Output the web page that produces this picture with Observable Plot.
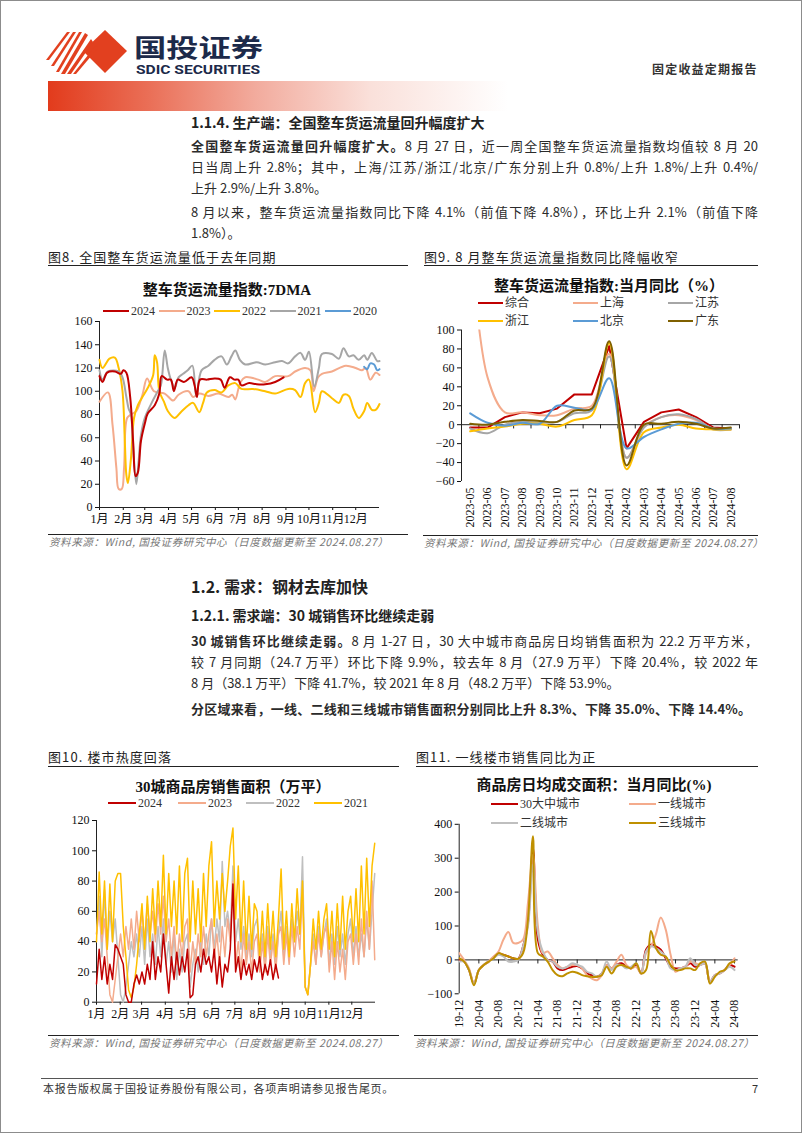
<!DOCTYPE html>
<html><head><meta charset="utf-8">
<script src="https://cdn.jsdelivr.net/npm/d3@7"></script>
<script src="https://cdn.jsdelivr.net/npm/@observablehq/plot@0.6"></script>
<style>
body{margin:0;background:#fff;}
#page{position:relative;width:802px;height:1133px;overflow:hidden;font-family:"Noto Sans CJK SC",sans-serif;color:#222;box-sizing:border-box;border:1px solid #8c8c8c;}
.abs{position:absolute;white-space:nowrap;}
.ln{position:absolute;left:190px;width:567px;font-size:13px;line-height:20px;height:20px;text-align:justify;text-align-last:justify;color:#2b2b2b;}
.ln.nj{text-align-last:left;}
.h{position:absolute;left:190px;white-space:nowrap;color:#222;font-weight:bold;}
.fig{position:absolute;font-size:13px;letter-spacing:1.1px;color:#222;white-space:nowrap;}
.rule{position:absolute;height:0;border-top:1.2px solid #222;}
.src{position:absolute;font-size:10.5px;font-style:italic;color:#777;white-space:nowrap;letter-spacing:0.6px;}
.ct{position:absolute;font-weight:bold;white-space:nowrap;color:#111;transform:translateX(-50%);font-family:"Liberation Serif","Noto Sans CJK SC",serif;}
.leg{position:absolute;white-space:nowrap;font-size:12px;color:#333;font-family:"Liberation Serif","Noto Sans CJK SC",serif;line-height:16px;}
.chart{position:absolute;}
</style></head>
<body><div id="page"></div>
<script>
// ---------------- DATA ----------------
// Fig 8: 整车货运流量指数:7DMA  [day of year, value]
const s2024 = [[0,113],[4,108],[10,116],[20,117],[28,115],[31,118],[35,116],[40,95],[44,55],[47,27],[50,30],[54,57],[59,72],[63,81],[72,88],[78,98],[81,113],[88,110],[93,110],[97,100],[102,110],[110,108],[120,112],[124,105],[127,95],[131,110],[140,110],[150,111],[158,110],[163,103],[170,112],[176,110],[181,110],[185,105],[195,107],[205,106],[216,106],[229,108],[240,112]];
const s2023 = [[0,91],[11,99],[17,71],[22,34],[25,16],[29,16],[32,34],[36,77],[41,80],[48,83],[56,97],[62,111],[71,100],[85,98],[96,92],[103,97],[116,100],[122,95],[130,98],[142,96],[155,98],[168,95],[173,97],[177,93],[181,102],[184,108],[190,112],[207,110],[216,108],[229,113],[246,113],[255,117],[268,120],[275,118],[279,100],[285,112],[290,115],[303,117],[321,122],[334,120],[342,118],[347,120],[353,110],[360,116],[365,114]];
const s2022 = [[0,127],[4,120],[13,128],[20,129],[25,120],[30,100],[33,57],[35,28],[37,21],[41,42],[45,77],[50,88],[55,94],[63,103],[70,114],[72,131],[75,125],[78,100],[84,91],[89,83],[98,77],[106,82],[116,88],[122,90],[130,82],[135,90],[140,99],[150,101],[159,99],[168,105],[177,107],[185,102],[200,102],[216,100],[229,98],[246,102],[255,101],[262,95],[268,107],[273,110],[281,82],[286,90],[290,100],[303,94],[312,90],[318,97],[325,96],[331,85],[338,77],[345,83],[349,90],[355,84],[360,84],[365,89]];
const s2021 = [[0,118],[4,110],[11,117],[25,117],[30,112],[35,95],[38,85],[41,80],[44,50],[48,20],[51,40],[54,62],[59,77],[68,90],[76,100],[80,105],[85,135],[89,120],[93,110],[98,103],[103,112],[109,115],[115,118],[121,122],[126,96],[133,118],[142,122],[150,127],[159,130],[166,123],[172,130],[177,135],[183,127],[190,123],[205,125],[216,123],[229,125],[238,126],[246,124],[255,130],[262,133],[268,127],[273,134],[280,104],[286,120],[290,132],[303,132],[312,128],[318,137],[325,130],[331,131],[338,127],[345,131],[349,127],[355,133],[362,126],[365,126]];
const s2020 = [[345,121],[349,119],[353,124],[358,123],[362,118],[365,119]];
const monthLabels = ["1月","2月","3月","4月","5月","6月","7月","8月","9月","10月","11月","12月"];
const monthStart = [0,31,59,90,120,151,181,212,243,273,304,334];

// Fig 9: 整车货运流量指数:当月同比(%)
const months9 = ["2023-05","2023-06","2023-07","2023-08","2023-09","2023-10","2023-11","2023-12","2024-01","2024-02","2024-03","2024-04","2024-05","2024-06","2024-07","2024-08"];
const zonghe    = [-3,-3,8,13,12,17,32,32,83,-25,3,13,16,8,-3,-4];
const shanghai  = [200,50,13,13,10,10,17,20,75,-35,-2,8,10,5,-4,-5];
const jiangsu   = [-4,-9,0,3,2,3,12,15,72,-35,-3,8,11,6,-5,-5];
const zhejiang  = [-7,-4,-2,1,1,-2,5,10,86,-47,-8,-3,0,-4,-5,-5];
const beijing   = [12,2,-1,2,1,20,18,16,49,-25,-13,-5,1,2,-4,-4];
const guangdong = [1,0,3,5,4,3,15,17,88,-43,0,1,3,1,-4,-3];

// Fig 10: 30城商品房销售面积(万平), one value every 3.5 days
const sales2021 = [40,86,45,80,35,78,40,80,85, 85,50,30,8,3,10,25,45, 65,35,70,40,75,45,80,50,97, 45,85,50,80,45,90,40,85,95, 40,80,45,75,40,85,50,90,106, 50,80,55,85,60,80,103,115, 55,90,40,80,35,70,35,65,60, 30,60,30,65,35,60,30,55,88, 35,60,30,65,40,75,45,80, 10,5,25,55,35,60,35,55,65, 35,60,30,65,35,70,35,60,70, 40,75,40,90,45,95,50,90,105];
const sales2022 = [45,70,30,74,35,60,40,55,30, 5,0,10,25,40,30,45,30, 50,25,55,30,45,25,50,30,55, 25,40,20,45,15,35,20,40,45, 10,25,35,20,40,25,45,30,55, 35,55,40,93,50,60,45,90, 40,55,35,50,30,45,30,50,55, 30,45,25,50,30,45,25,45,60, 30,50,35,55,40,60,45,96, 10,5,25,45,25,50,30,45,55, 25,45,25,50,30,45,25,45,55, 30,50,30,45,30,55,35,60,85];
const sales2023 = [45,60,40,55,30,5,0,15,30, 45,30,50,35,55,35,60,40, 60,40,65,45,60,40,65,45,70, 40,55,30,50,25,45,30,50,55, 20,40,25,45,30,50,30,45,55, 30,45,25,50,30,55,40,80, 25,40,20,45,25,40,20,40,45, 20,40,20,45,25,40,20,45,50, 25,45,25,50,30,50,35,75, 10,5,25,40,25,45,30,45,50, 20,40,15,40,20,35,15,40,45, 25,45,25,55,30,60,35,80,28];
const sales2024 = [12,35,15,30,12,25,15,38,35, 30,25,5,0,0,12,18,12, 20,12,25,15,40,15,30,20,45, 25,6,30,15,33,18,30,20,35, 3,5,25,30,20,35,25,30,20, 35,12,30,10,25,20,35,78, 20,30,15,28,18,25,15,28,20, 30,15,25,18,28,15,25,16];

// Fig 11: 商品房日均成交面积:当月同比(%), monthly 2019-12 .. 2024-08
const tickLabels11 = ["19-12","20-04","20-08","20-12","21-04","21-08","21-12","22-04","22-08","22-12","23-04","23-08","23-12","24-04","24-08"];
const city30 = [0,-5,-30,-70,-30,-15,-5,8,18,15,10,5,3,40,110,330,60,15,0,-5,-25,-30,-25,-20,-18,-25,-40,-45,-50,-40,-15,-25,-15,-10,-20,-25,-15,-40,30,45,40,30,5,-20,-25,-25,-20,-10,-20,-15,-10,-65,-45,-40,-30,-15,-20];
const tier1  = [20,0,-25,-70,-30,-15,-3,10,25,60,82,50,50,60,170,310,100,20,25,5,-15,-25,-20,-15,-15,-25,-45,-55,-60,-45,-15,-25,-5,15,-15,-25,-20,-40,20,40,75,125,90,15,-35,-25,-20,-5,-10,-15,-10,-65,-45,-40,-30,-15,5];
const tier2  = [-5,-5,-30,-70,-30,-15,-5,5,15,10,-5,-5,0,40,100,280,80,25,0,-5,-20,-25,-20,-10,-15,-20,-35,-40,-50,-40,-5,-30,-15,-15,-25,-20,-10,-40,25,40,35,25,10,-25,-30,-25,-20,5,-15,-15,-10,-65,-45,-40,-30,-20,-30];
const tier3  = [5,-5,-30,-75,-30,-15,-5,5,20,15,10,5,3,20,120,365,20,10,-5,-30,-45,-48,-40,-35,-38,-45,-48,-50,-50,-45,-20,-40,-20,-15,-20,-25,-10,-40,-30,85,35,15,10,-15,-30,-30,-25,-25,-30,-10,-5,-70,-50,-35,-30,-10,-5];

// ---------------- helpers ----------------
const page = document.getElementById("page");
function el(tag, cls, html, css) {
  const e = document.createElement(tag);
  if (cls) e.className = cls;
  if (html != null) e.innerHTML = html;
  if (css) Object.assign(e.style, css);
  page.appendChild(e);
  return e;
}
function px(v){return v+"px";}
function legend(x, y, color, label, lw) {
  el("div","leg",`<span style="display:inline-block;width:${lw}px;height:2.4px;background:${color};vertical-align:middle;margin-right:2px;position:relative;top:-1px"></span>${label}`,{left:px(x),top:px(y-8)});
}
function place(svg, left, top) {
  const w = document.createElement("div");
  w.className = "chart"; w.style.left = px(left); w.style.top = px(top);
  w.appendChild(svg); page.appendChild(w);
}
const C = {red:"#c00000", salmon:"#f4ab8c", yellow:"#ffc000", gray:"#a6a6a6", blue:"#5b9bd5", olive:"#7f6000", gold:"#bf9000"};
const numFont = {fontFamily:"'Liberation Serif', serif", fontSize:"12px", background:"transparent", color:"#111", overflow:"visible"};
const monthAxis = () => Plot.axisX({ticks:monthStart,tickFormat:d=>monthLabels[monthStart.indexOf(d)],tickSize:3,tickPadding:4,label:null,fontFamily:"'Liberation Serif','Noto Sans CJK SC',serif",fontSize:12});

// ---------------- header ----------------
el("div",null,`<svg width="92" height="46" viewBox="0 0 92 46">
 <g fill="#e2401f">
  <polygon points="60,0 82,21 60,43 38,21"/>
  <polygon points="22,2 25,2 4,30 1,30"/>
  <polygon points="28,2 31,2 9,36 6,36"/>
  <polygon points="34,2 37,2 14,42 11,42"/>
  <polygon points="40,3 43,5 20,44 16,44"/>
  <polygon points="46,9 48,12 26,44 22,44"/>
  <polygon points="51,15 53,18 31,44 28,44"/>
 </g></svg>`,{position:"absolute",left:"44px",top:"29px"});
el("div",null,`<svg width="140" height="48" style="overflow:visible"><text x="0" y="25" textLength="129" lengthAdjust="spacingAndGlyphs" font-family="Noto Sans CJK SC" font-weight="bold" font-size="25" fill="#1c2a4a">国投证券</text><text x="2" y="42" textLength="124" lengthAdjust="spacingAndGlyphs" font-family="Liberation Sans Narrow, Roboto, sans-serif" font-weight="bold" font-size="12" fill="#1c2a4a">SDIC SECURITIES</text></svg>`,{position:"absolute",left:"133px",top:"31px"});
el("div","abs","固定收益定期报告",{left:"651px",top:"59px",fontSize:"12px",letterSpacing:"1.2px",color:"#333",fontWeight:"bold"});
el("div",null,"",{position:"absolute",left:"47px",top:"80px",width:"460px",height:"30px",background:"linear-gradient(to right,#e23b1c 0%,#ea6f57 22%,#f2ab9d 45%,#fae0da 70%,#ffffff 100%)"});

// ---------------- text section 1 ----------------
el("div","h","1.1.4. 生产端：全国整车货运流量回升幅度扩大",{top:px(111),fontSize:"14px",lineHeight:"20px"});
el("div","ln","<b>全国整车货运流量回升幅度扩大。</b>8 月 27 日，近一周全国整车货运流量指数均值较 8 月 20",{top:px(135)});
el("div","ln","日当周上升 2.8%；其中，上海/江苏/浙江/北京/广东分别上升 0.8%/上升 1.8%/上升 0.4%/",{top:px(156)});
el("div","ln nj","上升 2.9%/上升 3.8%。",{top:px(177)});
el("div","ln","8 月以来，整车货运流量指数同比下降 4.1%（前值下降 4.8%），环比上升 2.1%（前值下降",{top:px(201)});
el("div","ln nj","1.8%）。",{top:px(222)});

// ---------------- fig titles row 1 ----------------
el("div","fig","图8. 全国整车货运流量低于去年同期",{left:"47px",top:"246px"});
el("div","rule",null,{left:"47px",top:"264px",width:"360px"});
el("div","fig","图9. 8 月整车货运流量指数同比降幅收窄",{left:"423px",top:"246px"});
el("div","rule",null,{left:"423px",top:"264px",width:"334px"});

// ---------------- Fig 8 ----------------
el("div","ct","整车货运流量指数:7DMA",{left:"226px",top:"277px",fontSize:"15px"});
[["2024",C.red],["2023",C.salmon],["2022",C.yellow],["2021",C.gray],["2020",C.blue]].forEach(([n,c],i)=>legend(102+i*55.5,310,c,n,26));
{
  const line = (d,c)=>Plot.line(d,{x:d=>d[0],y:d=>d[1],stroke:c,strokeWidth:2,curve:"catmull-rom"});
  const svg = Plot.plot({
    width:360,height:226,marginLeft:51,marginRight:29,marginTop:8,marginBottom:32,
    style:numFont,
    x:{domain:[0,365],label:null},
    y:{domain:[0,160],label:null},
    marks:[
      Plot.axisY({ticks:d3.range(0,161,20),tickSize:4,tickPadding:3,label:null}),
      monthAxis(),
      Plot.ruleX([0],{stroke:"#222"}),
      Plot.ruleY([0],{stroke:"#222"}),
      line(s2023,C.salmon), line(s2022,C.yellow), line(s2021,C.gray), line(s2024,C.red), line(s2020,C.blue)
    ]
  });
  place(svg,47,312);
}
el("div","rule",null,{left:"47px",top:"533px",width:"360px",borderTopWidth:"1px"});
el("div","src","资料来源：Wind, 国投证券研究中心（日度数据更新至 2024.08.27）",{left:"48px",top:"533px"});

// ---------------- Fig 9 ----------------
el("div","ct","整车货运流量指数:当月同比（%）",{left:"608px",top:"273px",fontSize:"15px"});
[["综合",C.red,477,302],["上海",C.salmon,572,302],["江苏",C.gray,667,302],["浙江",C.yellow,477,320],["北京",C.blue,572,320],["广东",C.olive,667,320]].forEach(([n,c,x,y])=>legend(x,y,c,n,25));
{
  const idx = d3.range(months9.length);
  const mk = (arr,c,curve)=>Plot.line(idx,{x:i=>i,y:i=>arr[i],stroke:c,strokeWidth:2,curve,clip:true});
  const svg = Plot.plot({
    width:345,height:212,marginLeft:47,marginRight:20,marginTop:4.5,marginBottom:56,
    style:numFont,
    x:{domain:[-0.5,15.5],label:null},
    y:{domain:[-60,100],label:null},
    marks:[
      Plot.axisY({ticks:d3.range(-60,101,20),tickSize:4,tickPadding:3,label:null}),
      Plot.axisX({ticks:idx,tickFormat:i=>months9[i],tickRotate:-90,tickSize:0,tickPadding:6,label:null}),
      Plot.ruleX([-0.5],{stroke:"#222"}),
      Plot.ruleY([0],{stroke:"#222"}),
      Plot.ruleX(d3.range(0.5,16,1),{y1:0,y2:-4.5,stroke:"#222"}),
      mk(zonghe,C.red,"linear"), mk(shanghai,C.salmon,"catmull-rom"), mk(jiangsu,C.gray,"catmull-rom"),
      mk(zhejiang,C.yellow,"catmull-rom"), mk(beijing,C.blue,"catmull-rom"), mk(guangdong,C.olive,"catmull-rom")
    ]
  });
  place(svg,413,324);
}
el("div","rule",null,{left:"422px",top:"534px",width:"335px",borderTopWidth:"1px"});
el("div","src","资料来源：Wind, 国投证券研究中心（日度数据更新至 2024.08.27）",{left:"423px",top:"534px"});

// ---------------- text section 2 ----------------
el("div","h","1.2. 需求：钢材去库加快",{top:px(574),fontSize:"16px",lineHeight:"22px"});
el("div","h","1.2.1. 需求端：30 城销售环比继续走弱",{top:px(604),fontSize:"14px",lineHeight:"20px"});
el("div","ln","<b>30 城销售环比继续走弱。</b>8 月 1-27 日，30 大中城市商品房日均销售面积为 22.2 万平方米，",{top:px(630)});
el("div","ln","较 7 月同期（24.7 万平）环比下降 9.9%，较去年 8 月（27.9 万平）下降 20.4%，较 2022 年",{top:px(651)});
el("div","ln nj","8 月（38.1 万平）下降 41.7%，较 2021 年 8 月（48.2 万平）下降 53.9%。",{top:px(672)});
el("div","ln","<b>分区域来看，一线、二线和三线城市销售面积分别同比上升 8.3%、下降 35.0%、下降 14.4%。</b>",{top:px(698),width:"560px"});

// ---------------- fig titles row 2 ----------------
el("div","fig","图10. 楼市热度回落",{left:"47px",top:"746px"});
el("div","rule",null,{left:"47px",top:"765px",width:"351px"});
el("div","fig","图11. 一线楼市销售同比为正",{left:"415px",top:"746px"});
el("div","rule",null,{left:"415px",top:"765px",width:"342px"});

// ---------------- Fig 10 ----------------
el("div","ct","30城商品房销售面积（万平）",{left:"232px",top:"774px",fontSize:"15px"});
[["2024",C.red,107],["2023",C.salmon,177],["2022","#bfbfbf",245],["2021",C.yellow,313]].forEach(([n,c,x])=>legend(x,802,c,n,28));
{
  const mk = (arr,c)=>Plot.line(arr,{x:(d,i)=>i*3.5,y:d=>d,stroke:c,strokeWidth:1.5});
  const svg = Plot.plot({
    width:360,height:222,marginLeft:48,marginRight:33,marginTop:9,marginBottom:31.3,
    style:numFont,
    x:{domain:[0,365],label:null},
    y:{domain:[0,120],label:null},
    marks:[
      Plot.axisY({ticks:d3.range(0,121,20),tickSize:4,tickPadding:3,label:null}),
      monthAxis(),
      Plot.ruleX([0],{stroke:"#222"}),
      Plot.ruleY([0],{stroke:"#222"}),
      mk(sales2022,"#bfbfbf"), mk(sales2023,C.salmon), mk(sales2021,C.yellow), mk(sales2024,C.red)
    ]
  });
  place(svg,47,810);
}
el("div","rule",null,{left:"47px",top:"1034px",width:"351px",borderTopWidth:"1px"});
el("div","src","资料来源：Wind, 国投证券研究中心（日度数据更新至 2024.08.27）",{left:"48px",top:"1034px"});

// ---------------- Fig 11 ----------------
el("div","ct","商品房日均成交面积：当月同比(%)",{left:"593px",top:"772px",fontSize:"15px"});
[["30大中城市",C.red,490,803],["一线城市",C.salmon,628,803],["二线城市","#bfbfbf",490,822],["三线城市",C.gold,628,822]].forEach(([n,c,x,y])=>legend(x,y,c,n,27));
{
  const idx = d3.range(city30.length);
  const tks = d3.range(0,57,4);
  const mk = (arr,c)=>Plot.line(idx,{x:i=>i,y:i=>arr[i],stroke:c,strokeWidth:2,curve:"catmull-rom",clip:true});
  const svg = Plot.plot({
    width:345,height:215,marginLeft:44.7,marginRight:21.3,marginTop:7.8,marginBottom:37.7,
    style:numFont,
    x:{domain:[0,56.75],label:null},
    y:{domain:[-100,400],label:null},
    marks:[
      Plot.axisY({ticks:d3.range(-100,401,100),tickSize:4,tickPadding:3,label:null}),
      Plot.axisX({ticks:tks,tickFormat:i=>tickLabels11[tks.indexOf(i)],tickRotate:-90,tickSize:0,tickPadding:6,label:null}),
      Plot.ruleX([0],{stroke:"#222"}),
      Plot.ruleY([0],{stroke:"#222"}),
      Plot.ruleX(tks.slice(1),{y1:0,y2:-12,stroke:"#222"}),
      mk(city30,C.red), mk(tier1,C.salmon), mk(tier2,"#bfbfbf"), mk(tier3,C.gold)
    ]
  });
  place(svg,413,815);
}
el("div","rule",null,{left:"413px",top:"1034px",width:"344px",borderTopWidth:"1px"});
el("div","src","资料来源：Wind, 国投证券研究中心（日度数据更新至 2024.08.27）",{left:"414px",top:"1034px"});

// ---------------- footer ----------------
el("div","rule",null,{left:"40px",top:"1077px",width:"717px",borderTopWidth:"1.5px",borderColor:"#555"});
el("div","abs","本报告版权属于国投证券股份有限公司，各项声明请参见报告尾页。",{left:"42px",top:"1079px",fontSize:"11px",letterSpacing:"0.7px",color:"#333"});
el("div","abs","7",{left:"751px",top:"1079px",fontSize:"11px",color:"#333"});
</script>
</body></html>
